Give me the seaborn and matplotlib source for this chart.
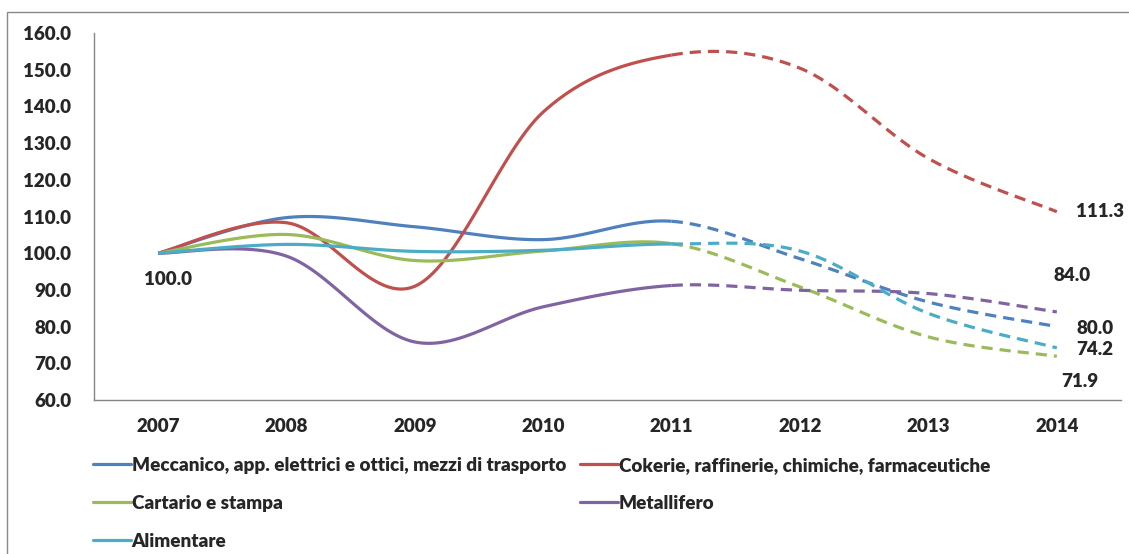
import numpy as np
import pandas as pd
import seaborn as sns
import matplotlib.pyplot as plt
from matplotlib.lines import Line2D
from matplotlib.patches import Rectangle

years = ["2007", "2008", "2009", "2010", "2011", "2012", "2013", "2014"]
meccanico = [100.0, 109.7, 107.2, 103.7, 108.7, 98.5, 86.7, 80.0]
cokerie = [100.0, 108.3, 91.0, 138.5, 154.0, 150.4, 125.8, 111.3]
cartario = [100.0, 105.1, 98.0, 100.6, 102.6, 90.8, 77.2, 71.9]
metallifero = [100.0, 99.2, 75.8, 85.4, 91.2, 89.9, 89.0, 84.0]
alimentare = [100.0, 102.4, 100.5, 100.8, 102.5, 100.6, 83.6, 74.2]

names = ["Meccanico, app. elettrici e ottici, mezzi di trasporto",
         "Cokerie, raffinerie, chimiche, farmaceutiche",
         "Cartario e stampa",
         "Metallifero",
         "Alimentare"]
series = [meccanico, cokerie, cartario, metallifero, alimentare]
colors = ["#4F81BD", "#C0504D", "#9BBB59", "#8064A2", "#4BACC6"]
last_actual = 4  # 2011: solid up to here, dashed after
N = 30


def smooth(xs, ys, n=N):
    # excel-like smoothed line: bezier segments with catmull-rom control points
    p = np.column_stack([xs, ys]).astype(float)
    p = np.vstack([p[0], p, p[-1]])
    out = []
    t = np.linspace(0, 1, n)[:, None]
    for i in range(1, len(p) - 2):
        p0, p1, p2, p3 = p[i - 1], p[i], p[i + 1], p[i + 2]
        c1 = p1 + (p2 - p0) / 6
        c2 = p2 - (p3 - p1) / 6
        seg = ((1 - t) ** 3) * p1 + 3 * ((1 - t) ** 2) * t * c1 + 3 * (1 - t) * t ** 2 * c2 + t ** 3 * p2
        out.append(seg if i == 1 else seg[1:])
    return np.vstack(out)


sns.set_style("white")
plt.rcParams['font.family'] = ['Lato', 'DejaVu Sans']
W = 'heavy'
FS = 13.5

fig = plt.figure(figsize=(11.29, 5.54), dpi=100)
ax = fig.add_axes([94 / 1129, 1 - 400 / 554, (1121 - 94) / 1129, (400 - 33) / 554])

x = np.arange(len(years))
split = last_actual * (N - 1)
for vals, col in zip(series, colors):
    sm = smooth(x, vals)
    df_a = pd.DataFrame({"x": sm[:split + 1, 0], "y": sm[:split + 1, 1]})
    df_f = pd.DataFrame({"x": sm[split:, 0], "y": sm[split:, 1]})
    sns.lineplot(data=df_a, x="x", y="y", color=col, lw=2.3, sort=False,
                 estimator=None, ax=ax, solid_capstyle='butt')
    sns.lineplot(data=df_f, x="x", y="y", color=col, lw=2.3, sort=False,
                 estimator=None, ax=ax, linestyle=(0, (3.5, 2.2)), dash_capstyle='butt')

# data labels
lab_kw = dict(textcoords='offset pixels', fontsize=FS, fontweight=W, va='center', ha='center')
ax.annotate(f"{meccanico[0]:.1f}", (0, meccanico[0]), xytext=(10, -26), **lab_kw)
ax.annotate(f"{cokerie[-1]:.1f}", (7, cokerie[-1]), xytext=(43, 0), **lab_kw)
ax.annotate(f"{metallifero[-1]:.1f}", (7, metallifero[-1]), xytext=(15, 36), **lab_kw)
ax.annotate(f"{meccanico[-1]:.1f}", (7, meccanico[-1]), xytext=(38, -2), **lab_kw)
ax.annotate(f"{alimentare[-1]:.1f}", (7, alimentare[-1]), xytext=(38, -2), **lab_kw)
ax.annotate(f"{cartario[-1]:.1f}", (7, cartario[-1]), xytext=(23, -25), **lab_kw)

ax.set_xlim(-0.5, len(years) - 0.5)
ax.set_ylim(60, 160)
ax.set_yticks(np.arange(60, 161, 10))
ax.set_yticklabels([f"{v:.1f}" for v in np.arange(60, 161, 10)])
ax.set_xticks(x)
ax.set_xticklabels(years)
ax.set_xticks(np.arange(-0.5, len(years)), minor=True)
ax.set_xlabel("")
ax.set_ylabel("")

axcol = "#868686"
for s in ["top", "right"]:
    ax.spines[s].set_visible(False)
for s in ["left", "bottom"]:
    ax.spines[s].set_color(axcol)
    ax.spines[s].set_linewidth(1.0)
ax.tick_params(axis='y', length=4.3, color=axcol, width=1, pad=12, labelsize=FS)
ax.tick_params(axis='x', which='major', length=0, pad=13, labelsize=FS)
ax.tick_params(axis='x', which='minor', length=4.3, color=axcol, width=1, direction='out')
for lab in ax.get_xticklabels() + ax.get_yticklabels():
    lab.set_fontweight(W)

handles = [Line2D([], [], color=c, lw=2.3) for c in colors]
order = [0, 2, 4, 1, 3]
fig.legend([handles[i] for i in order], [names[i] for i in order], ncol=2,
           loc='upper left', bbox_to_anchor=(93 / 1129, 1 - 457 / 554),
           frameon=False, handlelength=2.0, handletextpad=0.05,
           columnspacing=0.75, labelspacing=1.1, borderaxespad=0, borderpad=0,
           prop={'weight': W, 'size': 13.6})

# chart area border
fig.patches.append(Rectangle((7 / 1129, -0.1), 1.2, 1 - 12 / 554 + 0.1,
                             transform=fig.transFigure, fill=False,
                             edgecolor="#898989", lw=1.0))

fig.savefig("out.png", dpi=100)
